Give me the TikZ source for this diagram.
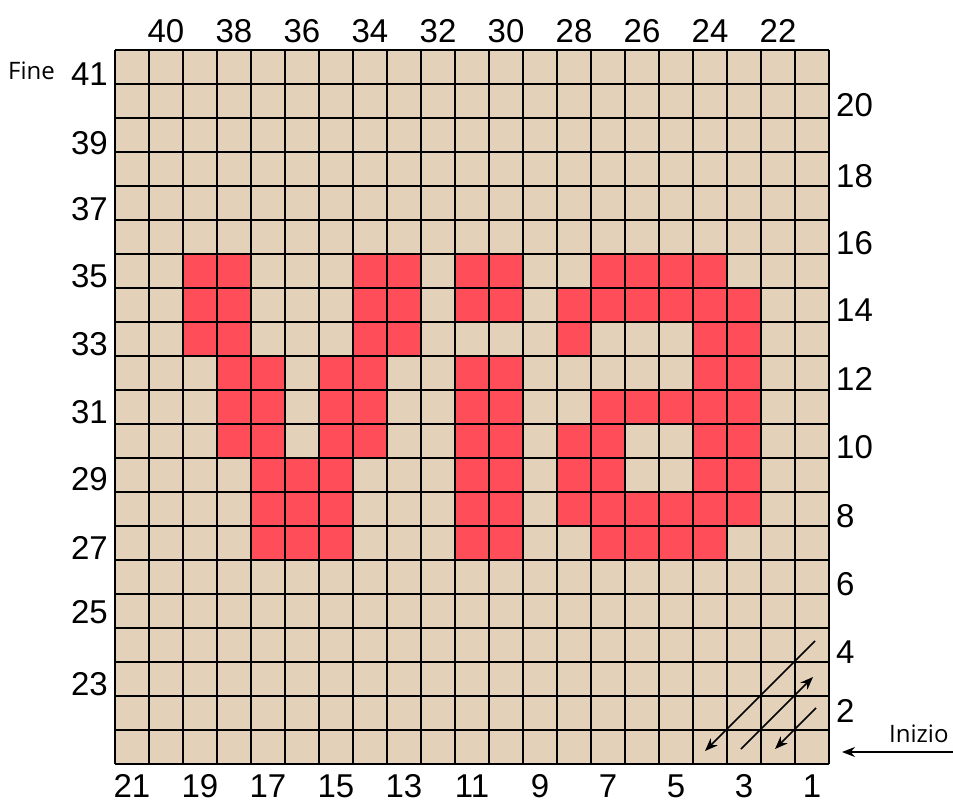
\documentclass[tikz,border=0pt]{standalone}
\usepackage{fontspec}
\setmainfont{Liberation Sans}
\newfontfamily\labfont{Open Sans}
\usetikzlibrary{arrows.meta}
\definecolor{beige}{HTML}{E4D1BA}
\definecolor{stitchred}{HTML}{FF4D59}
\begin{document}
\begin{tikzpicture}[x=1pt,y=-1pt,
  num/.style={font=\fontsize{33}{33}\selectfont, inner sep=0pt},
  word/.style={font=\labfont\fontsize{24}{24}\selectfont, inner sep=0pt},
  gridline/.style={line width=1.8pt, black},
  arr/.style={line width=1.5pt, -{Stealth[length=13pt,width=10pt]}}]
\useasboundingbox (0,0) rectangle (953,803);
% background of the chart
\fill[beige] (115,50) rectangle (829,764);
% red stitches
\foreach \r/\cols in {
  6/{2,3,7,8,10,11,14,15,16,17},
  7/{2,3,7,8,10,11,13,14,15,16,17,18},
  8/{2,3,7,8,13,17,18},
  9/{3,4,6,7,10,11,17,18},
  10/{3,4,6,7,10,11,14,15,16,17,18},
  11/{3,4,6,7,10,11,13,14,17,18},
  12/{4,5,6,10,11,13,14,17,18},
  13/{4,5,6,10,11,13,14,15,16,17,18},
  14/{4,5,6,10,11,14,15,16,17}}{
  \foreach \c in \cols {
    \fill[stitchred] ({115+34*\c},{50+34*\r}) rectangle +(34,34);
  }
}
% grid
\foreach \i in {0,...,21}{
  \draw[gridline] ({115+34*\i},50) -- ({115+34*\i},764);
  \draw[gridline] (115,{50+34*\i}) -- (829,{50+34*\i});
}
% top labels
\foreach \c/\t in {1/40,3/38,5/36,7/34,9/32,11/30,13/28,15/26,17/24,19/22}{
  \node[num, anchor=base] (top\t) at ({115+34*\c+17},42) {\t};
}
% bottom labels
\foreach \c/\t in {0/21,2/19,4/17,6/15,8/13,10/11,12/9,14/7,16/5,18/3,20/1}{
  \node[num, anchor=base] (bot\t) at ({115+34*\c+17},797) {\t};
}
% left labels
\foreach \y/\t in {85/41,154/39,220/37,287/35,355/33,423/31,490/29,559/27,623/25,695/23}{
  \node[num, anchor=base east] (left\t) at (108,\y) {\t};
}
% right labels
\foreach \y/\t in {116/20,187/18,254/16,321/14,390/12,458/10,527/8,595/6,663/4,722/2}{
  \node[num, anchor=base west] (right\t) at (836,\y) {\t};
}
% words
\node[word, anchor=base west] (fine) at (8,79) {Fine};
\node[word, anchor=base west] (inizio) at (889,742) {Inizio};
% direction arrows
\coordinate (a1s) at (815,641);
\coordinate (a1e) at (705,751);
\coordinate (a2s) at (741,749);
\coordinate (a2e) at (813,677);
\coordinate (a3s) at (816,708);
\coordinate (a3e) at (775,749);
\coordinate (a4s) at (953,752);
\coordinate (a4e) at (842,752);
\draw[arr] (a1s) -- (a1e);
\draw[arr] (a2s) -- (a2e);
\draw[arr] (a3s) -- (a3e);
\draw[arr] (a4s) -- (a4e);
\end{tikzpicture}
\end{document}
